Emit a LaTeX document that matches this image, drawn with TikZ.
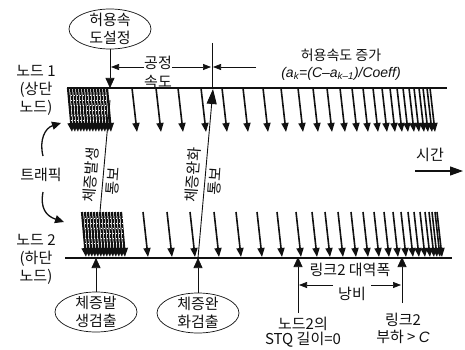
\documentclass[tikz,border=0pt]{standalone}
\usepackage{fontspec}
\setmainfont{Noto Sans CJK KR}
\newfontfamily\formfont{Liberation Sans}
\usetikzlibrary{arrows.meta,positioning,shapes.geometric,calc}
\usepackage{xcolor}
\definecolor{ink}{HTML}{111111}
\tikzset{
  lbl/.style={font=\fontsize{15}{18}\selectfont, align=center, inner sep=0pt, text=ink},
  event/.style={lbl, draw=ink, ellipse, line width=0.7pt, minimum width=82pt, minimum height=40pt, inner xsep=0pt, inner ysep=-4pt},
  timeline/.style={draw=ink, line width=1.6pt},
  pkt/.style={-{Triangle[length=9pt,width=7pt]}, line width=1.6pt, draw=ink},
  burst/.style={-{Triangle[length=9pt,width=7pt]}, line width=2.2pt, draw=ink},
  bigarrow/.style={-{Triangle[length=10pt,width=9pt]}, line width=0.7pt, draw=ink},
  guide/.style={draw=ink, line width=0.6pt},
  dimarrow/.style={-{Triangle[length=8pt,width=6pt]}, line width=0.7pt, draw=ink},
  notice/.style={draw=ink, line width=0.9pt},
  curvearrow/.style={-{Triangle[length=9pt,width=8pt]}, line width=1.3pt, draw=ink}
}

\begin{document}
\begin{tikzpicture}[x=1pt,y=-1pt]
  \useasboundingbox (0,0) rectangle (465,350);

  \node[lbl] (node1) at (36,90) {노드 1\\(상단\\노드)};
  \node[lbl] (node2) at (36,259) {노드 2\\(하단\\노드)};
  \node[lbl] (traffic) at (41,175) {트래픽};
  \node[event] (setrate) at (110,29) {허용속\\도설정};
  \node[event] (detect) at (96,312) {체증발\\생검출};
  \node[event] (relief) at (198,313) {체증완\\화검출};
  \node[lbl, font=\fontsize{15}{19}\selectfont] (fair) at (158,72) {공정\\속도};
  \node[lbl, font=\fontsize{14}{17}\selectfont] (incr) at (341,65) {허용속도 증가\\{\formfont\itshape (a\textsubscript{k}=(C–a\textsubscript{k–1})/Coeff)}};
  \node[lbl] (time) at (430,155) {시간};
  \node[lbl] (wasteTop) at (350,270) {링크2 대역폭};
  \node[lbl, inner xsep=5pt] (wasteBot) at (352,294) {낭비};
  \node[lbl, font=\fontsize{15}{15}\selectfont] (stq) at (303,332) {노드2의\\STQ 길이=0};
  \node[lbl, font=\fontsize{15}{17}\selectfont] (overload) at (403,328) {링크2\\부하 > {\formfont\itshape C}};

  \coordinate (t1a) at (67,88);
  \coordinate (t1b) at (447,88);
  \coordinate (t2a) at (65,258);
  \coordinate (t2b) at (452,258);
  \draw[timeline] (t1a) -- (t1b);
  \draw[timeline] (t2a) -- (t2b);

  \foreach \x in {68,71,...,107}
    \draw[burst] (\x,88) -- (\x+4,132);
  \foreach \x in {82,85,...,122}
    \draw[burst] (\x,212) -- (\x+4,257);
  \foreach \r in {95,100,...,120}
    \draw[white, line width=0.9pt, dash pattern=on 0.9pt off 2.2pt] (71,\r) -- (108,\r);
  \foreach \r in {218,223,...,243}
    \draw[white, line width=0.9pt, dash pattern=on 0.9pt off 2.2pt] (85,\r) -- (123,\r);

  \foreach \x in {132,156,178,201,222,243,263,281,298,313,327,340,352,363,373,382,390,397,403,409,414,419,423,427,430}
    \draw[pkt] (\x,88) -- (\x+5,132);
  \foreach \x in {143,167,190,214,236,257,277,296,312,325,338,351,363,374,384,393,401,408,414,420,425,429,432,435,437}
    \draw[pkt] (\x,212) -- (\x+5,257);

  \draw[bigarrow] (setrate.south) -- (setrate.south |- t1a);
  \draw[bigarrow] (detect.north) -- (detect.north |- t2a);
  \draw[bigarrow] (relief.north) -- (relief.north |- t2a);

  \coordinate (cgA) at (100,212);
  \coordinate (cgB) at (110,100);
  \draw[notice] (cgA) -- (cgB);
  \node[lbl, rotate=86] (cgText) at (91,175) {체증발생};
  \node[lbl, rotate=86] (cgNote) at (113,181) {통보};

  \coordinate (rlA) at (198,258);
  \coordinate (rlB) at (213,89);
  \draw[notice, -{Triangle[length=15pt,width=10pt]}] (rlA) -- (rlB);
  \node[lbl, rotate=86] (rlText) at (193,175) {체증완화};
  \node[lbl, rotate=86] (rlNote) at (215,181) {통보};

  \coordinate (fairTop) at (212,43);
  \coordinate (fairL) at (111,67);
  \coordinate (fairR) at (211,67);
  \coordinate (incrL) at (213,67);
  \coordinate (incrEnd) at (256,67);
  \draw[guide] (fairTop) -- (fairTop |- t1a);
  \draw[dimarrow] (fair.west |- fairL) -- (fairL);
  \draw[dimarrow] (fair.east |- fairR) -- (fairR);
  \draw[dimarrow] (incrEnd) -- (incrL);

  \draw[curvearrow] (43,156) .. controls (39,140) and (45,128) .. (61,123);
  \draw[curvearrow] (43,192) .. controls (40,208) and (46,216) .. (64,222);

  \coordinate (timeStart) at (415,171);
  \coordinate (timeEnd) at (463,171);
  \draw[-{Triangle[length=13pt,width=9pt]}, line width=1.2pt, draw=ink] (timeStart) -- (timeEnd);

  \coordinate (stqMark) at (298,257);
  \coordinate (stqFoot) at (298,313);
  \coordinate (ovlMark) at (402,257);
  \coordinate (ovlFoot) at (402,303);
  \draw[bigarrow] (stqFoot) -- (stqMark);
  \draw[bigarrow] (ovlFoot) -- (ovlMark);
  \coordinate (wasteL) at (299,285);
  \coordinate (wasteR) at (401,285);
  \draw[dimarrow] (wasteBot.west |- wasteL) -- (wasteL);
  \draw[dimarrow] (wasteBot.east |- wasteR) -- (wasteR);
\end{tikzpicture}
\end{document}
